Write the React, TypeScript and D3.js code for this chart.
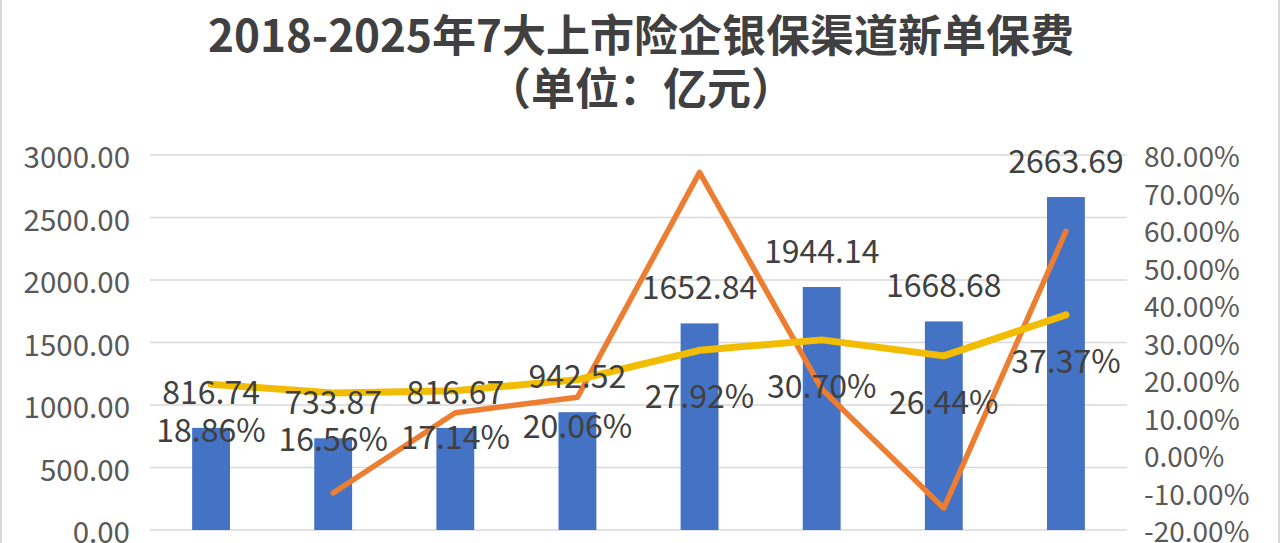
import React from 'react';
import * as d3 from 'd3';

// data
const years = ['2018', '2019', '2020', '2021', '2022', '2023', '2024', '2025'];
const premiums = [816.74, 733.87, 816.67, 942.52, 1652.84, 1944.14, 1668.68, 2663.69];
const shares = [18.86, 16.56, 17.14, 20.06, 27.92, 30.7, 26.44, 37.37];
const growth: Array<number | null> = [null, -10.15, 11.28, 15.41, 75.36, 17.62, -14.17, 59.63];
const leftTicks = [0, 500, 1000, 1500, 2000, 2500, 3000];
const rightTicks = [-20, -10, 0, 10, 20, 30, 40, 50, 60, 70, 80];

const W = 1280;
const H = 543;
const FONT = '"Noto Sans CJK SC", "Noto Sans", sans-serif';

const App: React.FC = () => {
  const x = d3.scaleBand<string>()
    .domain(years)
    .range([150, 1127])
    .paddingInner(0.69)
    .paddingOuter(0.345);
  const yL = d3.scaleLinear().domain([0, 3000]).range([530, 155]);
  const yR = d3.scaleLinear().domain([-20, 80]).range([530, 155]);
  const cx = (i: number) => (x(years[i]) ?? 0) + x.bandwidth() / 2;

  const shareLine = d3.line<number>()
    .x((_d, i) => cx(i))
    .y(d => yR(d));

  const growthPts = growth
    .map((g, i) => ({ g, i }))
    .filter(p => p.g !== null) as Array<{ g: number; i: number }>;
  const growthLine = d3.line<{ g: number; i: number }>()
    .x(p => cx(p.i))
    .y(p => yR(p.g));

  return (
    <svg width={W} height={H} style={{ position: 'absolute', left: 0, top: 0, background: '#fff' }}>
      {/* chart frame */}
      <rect x={1} y={-10} width={W - 2} height={H + 20} fill="#fff" stroke="#d9d9d9" strokeWidth={2} />

      {/* title */}
      <text x={641} y={33} textAnchor="middle" dominantBaseline="central"
        fontFamily={FONT} fontWeight="bold" fontSize={44} fill="#404040">
        2018-2025年7大上市险企银保渠道新单保费
      </text>
      <text x={641} y={86} textAnchor="middle" dominantBaseline="central"
        fontFamily={FONT} fontWeight="bold" fontSize={44} fill="#404040">
        （单位：亿元）
      </text>

      {/* gridlines */}
      {leftTicks.map(t => (
        <line key={t} x1={150} x2={1127} y1={yL(t)} y2={yL(t)} stroke="#d9d9d9" strokeWidth={1.5} />
      ))}

      {/* left axis */}
      {leftTicks.map(t => (
        <text key={t} x={130} y={yL(t)} textAnchor="end" dominantBaseline="central"
          fontFamily={FONT} fontSize={29.5} fill="#595959">
          {t.toFixed(2)}
        </text>
      ))}

      {/* right axis */}
      {rightTicks.map(t => (
        <text key={t} x={1144} y={yR(t)} textAnchor="start" dominantBaseline="central"
          fontFamily={FONT} fontSize={28} fill="#595959">
          {t.toFixed(2)}%
        </text>
      ))}

      {/* bars */}
      {premiums.map((v, i) => (
        <rect key={i} x={x(years[i])} y={yL(v)} width={x.bandwidth()} height={yL(0) - yL(v)} fill="#4472c4" />
      ))}

      {/* growth line */}
      <path d={growthLine(growthPts) || ''} fill="none" stroke="#ed7d31" strokeWidth={5.5} strokeLinecap="round" strokeLinejoin="round" />

      {/* share line */}
      <path d={shareLine(shares) || ''} fill="none" stroke="#f2bd00" strokeWidth={7} strokeLinecap="round" strokeLinejoin="round" />

      {/* bar value labels */}
      {premiums.map((v, i) => (
        <text key={i} x={cx(i)} y={yL(v) - 38} textAnchor="middle" dominantBaseline="central"
          fontFamily={FONT} fontSize={32} fill="#404040">
          {v.toFixed(2)}
        </text>
      ))}

      {/* share labels */}
      {shares.map((v, i) => (
        <text key={i} x={cx(i)} y={yR(v) + 44} textAnchor="middle" dominantBaseline="central"
          fontFamily={FONT} fontSize={32} fill="#404040">
          {v.toFixed(2)}%
        </text>
      ))}
    </svg>
  );
};

export default App;
